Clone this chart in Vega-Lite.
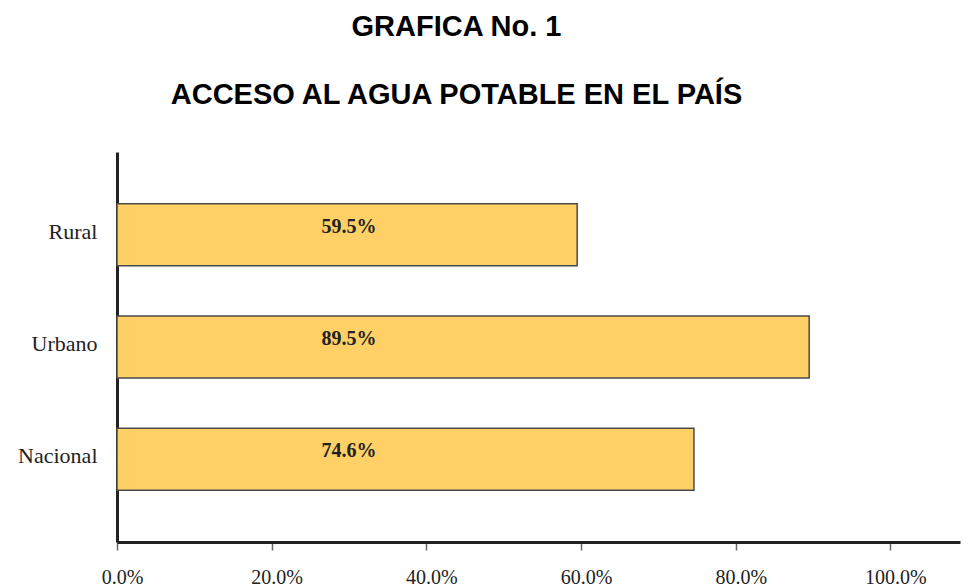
{
  "$schema": "https://vega.github.io/schema/vega-lite/v6.json",
  "autosize": "none",
  "width": 843,
  "height": 390,
  "padding": {"left": 117, "top": 152, "right": 17, "bottom": 46},
  "background": "white",
  "title": {
    "text": "GRAFICA No. 1",
    "subtitle": "ACCESO AL AGUA POTABLE EN EL PAÍS",
    "font": "Liberation Sans",
    "fontSize": 29,
    "fontWeight": "bold",
    "color": "#000000",
    "subtitleFont": "Liberation Sans",
    "subtitleFontSize": 29,
    "subtitleFontWeight": "bold",
    "subtitleColor": "#000000",
    "subtitlePadding": 39,
    "anchor": "middle",
    "dx": -82,
    "offset": 42
  },
  "data": {
    "values": [
      {"zona": "Rural", "valor": 59.5, "etiqueta": "59.5%"},
      {"zona": "Urbano", "valor": 89.5, "etiqueta": "89.5%"},
      {"zona": "Nacional", "valor": 74.6, "etiqueta": "74.6%"}
    ]
  },
  "config": {
    "view": {"stroke": null},
    "axis": {"grid": false}
  },
  "encoding": {
    "y": {
      "field": "zona",
      "type": "nominal",
      "sort": ["Rural", "Urbano", "Nacional"],
      "scale": {"paddingInner": 0.448, "paddingOuter": 0.46},
      "axis": {
        "title": null,
        "ticks": false,
        "domainColor": "#222222",
        "domainWidth": 3,
        "labelFont": "Liberation Serif",
        "labelFontSize": 22,
        "labelColor": "#222222",
        "labelPadding": 20,
        "labelOffset": -3
      }
    }
  },
  "layer": [
    {
      "mark": {"type": "bar", "color": "#FED066", "stroke": "#4a4a4a", "strokeWidth": 1.5},
      "encoding": {
        "x": {
          "field": "valor",
          "type": "quantitative",
          "scale": {"domain": [0, 109], "nice": false},
          "axis": {
            "title": null,
            "values": [0, 20, 40, 60, 80, 100],
            "labelExpr": "format(datum.value, '.1f') + '%'",
            "labelFlush": false,
            "labelOffset": 5,
            "domainColor": "#222222",
            "domainWidth": 3,
            "tickColor": "#666666",
            "tickWidth": 1.5,
            "tickSize": 8,
            "labelFont": "Liberation Serif",
            "labelFontSize": 20,
            "labelColor": "#222222",
            "labelPadding": 17
          }
        }
      }
    },
    {
      "mark": {"type": "text", "font": "Liberation Serif", "fontSize": 20, "fontWeight": "bold", "color": "#222222", "align": "center", "dy": -8},
      "encoding": {
        "x": {"datum": 30, "type": "quantitative"},
        "text": {"field": "etiqueta"}
      }
    }
  ]
}
